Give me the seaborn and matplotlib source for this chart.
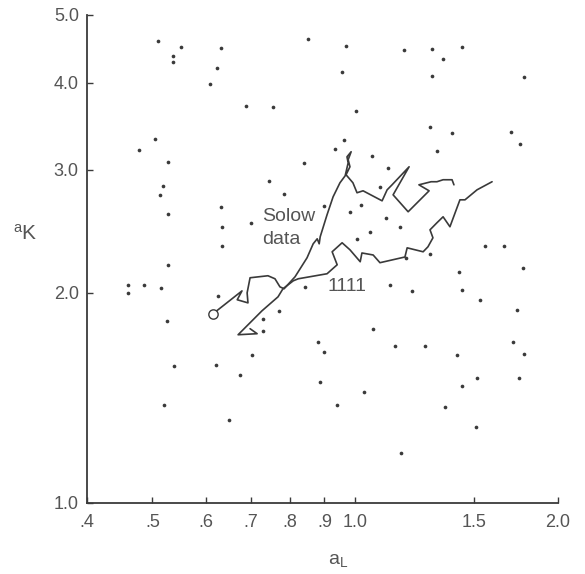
import matplotlib
matplotlib.use("Agg")
import matplotlib.pyplot as plt
from matplotlib.ticker import FixedLocator, FixedFormatter, NullLocator
import seaborn as sns

# scattered economies (a_L, a_K)
dots_aL = [0.51, 0.537, 0.537, 0.551, 0.631, 0.623, 0.609, 0.688, 0.755, 0.505,
           0.477, 0.527, 0.518, 0.513, 0.527, 0.527, 0.46, 0.46, 0.485, 0.515,
           0.744, 0.783, 0.631, 0.70, 0.635, 0.635, 0.625, 0.851, 0.969, 1.18,
           1.30, 1.44, 1.35, 0.956, 1.30, 1.78, 1.003, 1.29, 1.39, 1.70,
           1.755, 0.962, 0.933, 1.32, 0.84, 1.06, 1.12, 1.09, 1.02, 0.982,
           1.11, 1.165, 1.05, 1.006, 0.90, 1.557, 1.66, 1.29, 1.19, 1.775,
           1.425, 0.842, 1.126, 1.214, 1.44, 1.53, 1.74, 1.064, 0.88, 0.90,
           1.145, 1.27, 1.416, 1.715, 1.78, 1.516, 1.75, 1.44, 0.886, 1.03,
           0.94, 1.36, 1.51, 1.17, 0.525, 0.539, 0.621, 0.674, 0.703, 0.729,
           0.729, 0.77, 0.52, 0.65]
dots_aK = [4.59, 4.37, 4.28, 4.50, 4.49, 4.20, 3.98, 3.70, 3.69, 3.32,
           3.20, 3.08, 2.84, 2.76, 2.59, 2.19, 2.05, 2.00, 2.05, 2.03,
           2.89, 2.77, 2.65, 2.52, 2.48, 2.33, 1.98, 4.62, 4.51, 4.46,
           4.47, 4.50, 4.33, 4.14, 4.09, 4.08, 3.64, 3.46, 3.39, 3.40,
           3.27, 3.31, 3.21, 3.19, 3.07, 3.14, 3.02, 2.83, 2.67, 2.61,
           2.56, 2.48, 2.44, 2.39, 2.66, 2.33, 2.33, 2.27, 2.24, 2.17,
           2.14, 2.04, 2.05, 2.01, 2.02, 1.95, 1.89, 1.775, 1.70, 1.645,
           1.68, 1.68, 1.63, 1.70, 1.635, 1.51, 1.51, 1.47, 1.49, 1.44,
           1.38, 1.37, 1.285, 1.18, 1.82, 1.57, 1.575, 1.525, 1.63, 1.835,
           1.76, 1.885, 1.38, 1.315]

# Solow data path
solow_aL = [0.615, 0.679, 0.668, 0.693, 0.691, 0.698, 0.742, 0.760, 0.773, 0.784,
            0.814, 0.848, 0.866, 0.878, 0.884, 0.887, 0.908, 0.927, 0.949, 0.966,
            0.976, 0.972, 0.986, 0.976, 0.982, 0.969, 0.992, 1.006, 1.027, 1.096,
            1.115, 1.134, 1.202, 1.138, 1.198, 1.287, 1.243, 1.296, 1.322, 1.350,
            1.392, 1.401]
solow_aK = [1.866, 2.012, 1.954, 1.934, 1.999, 2.101, 2.115, 2.094, 2.039, 2.026,
            2.108, 2.244, 2.350, 2.389, 2.350, 2.405, 2.586, 2.744, 2.874, 2.941,
            3.070, 3.131, 3.184, 3.101, 3.030, 2.951, 2.874, 2.781, 2.799, 2.708,
            2.808, 2.855, 3.030, 2.762, 2.612, 2.799, 2.855, 2.884, 2.884, 2.903,
            2.903, 2.855]

# "1111" path
sim_aL = [0.698, 0.715, 0.670, 0.727, 0.768, 0.781, 0.809, 0.823, 0.908, 0.940,
          0.924, 0.956, 0.982, 1.017, 1.023, 1.063, 1.088, 1.185, 1.194, 1.261,
          1.282, 1.304, 1.291, 1.322, 1.350, 1.382, 1.430, 1.455, 1.516, 1.596]
sim_aK = [1.776, 1.747, 1.741, 1.884, 1.973, 2.026, 2.080, 2.094, 2.129, 2.193,
          2.289, 2.358, 2.304, 2.215, 2.280, 2.265, 2.208, 2.250, 2.319, 2.289,
          2.327, 2.397, 2.461, 2.519, 2.569, 2.486, 2.717, 2.717, 2.808, 2.884]

x_ticks = [0.4, 0.5, 0.6, 0.7, 0.8, 0.9, 1.0, 1.5, 2.0]
x_labels = ['.4', '.5', '.6', '.7', '.8', '.9', '1.0', '1.5', '2.0']
y_ticks = [1.0, 2.0, 3.0, 4.0, 5.0]
y_labels = ['1.0', '2.0', '3.0', '4.0', '5.0']


def main():
    sns.set_style('ticks')
    plt.rcParams['font.family'] = ['Liberation Sans', 'DejaVu Sans']
    plt.rcParams['mathtext.default'] = 'regular'

    ink = '#3a3a3a'
    txt = '#555555'

    fig = plt.figure(figsize=(5.85, 5.74), dpi=100)
    ax = fig.add_axes([0.149, 0.124, 0.805, 0.850])
    ax.set_xscale('log')
    ax.set_yscale('log')

    sns.scatterplot(x=dots_aL, y=dots_aK, s=7, color=ink, linewidth=0, ax=ax)
    sns.lineplot(x=sim_aL, y=sim_aK, sort=False, estimator=None,
                 color=ink, linewidth=1.2, ax=ax)
    sns.lineplot(x=solow_aL, y=solow_aK, sort=False, estimator=None,
                 color=ink, linewidth=1.2, ax=ax)
    sns.scatterplot(x=solow_aL[:1], y=solow_aK[:1], s=45, color='white',
                    edgecolor=ink, linewidth=1.0, zorder=5, ax=ax)

    ax.text(0.727, 2.569, 'Solow', fontsize=14, color=txt, va='center', ha='left')
    ax.text(0.727, 2.382, 'data', fontsize=14, color=txt, va='center', ha='left')
    ax.text(0.908, 2.039, '1111', fontsize=14, color=txt, va='center', ha='left')

    ax.set_xlim(0.4, 2.0)
    ax.set_ylim(1.0, 5.0)
    ax.xaxis.set_major_locator(FixedLocator(x_ticks))
    ax.xaxis.set_major_formatter(FixedFormatter(x_labels))
    ax.yaxis.set_major_locator(FixedLocator(y_ticks))
    ax.yaxis.set_major_formatter(FixedFormatter(y_labels))
    ax.xaxis.set_minor_locator(NullLocator())
    ax.yaxis.set_minor_locator(NullLocator())
    ax.tick_params(direction='in', length=4, width=1, color=ink,
                   labelsize=13, labelcolor=txt)
    ax.tick_params(axis='x', pad=8)
    ax.tick_params(axis='y', pad=6)

    sns.despine(ax=ax)
    for side in ['left', 'bottom']:
        ax.spines[side].set_color(ink)
        ax.spines[side].set_linewidth(1.3)

    ax.set_xlabel(r'a$_{L}$', fontsize=14, color=txt)
    ax.xaxis.set_label_coords(0.533, -0.100)
    ax.set_ylabel(r'$^{a}$K', fontsize=15, color=txt, rotation=0,
                  ha='center', va='center')
    ax.yaxis.set_label_coords(-0.132, 0.551)

    fig.savefig('out.png', dpi=100, facecolor='white')


main()
